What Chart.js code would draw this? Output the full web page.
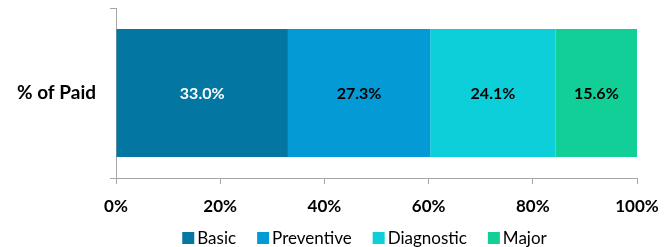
<!DOCTYPE html>
<html>
<head>
<meta charset="utf-8">
<script src="https://cdn.jsdelivr.net/npm/chart.js@4.4.0/dist/chart.umd.min.js"></script>
<style>
    html, body { margin: 0; padding: 0; background: #fff; }
    #wrap { width: 666px; height: 247px; position: relative; }
</style>
</head>
<body>
<div id="wrap"><canvas id="chart"></canvas></div>
<script>
const categories = ['% of Paid'];
const seriesNames = ['Basic', 'Preventive', 'Diagnostic', 'Major'];
const basic = [33.0];
const preventive = [27.3];
const diagnostic = [24.1];
const major = [15.6];
const xTicks = [0, 20, 40, 60, 80, 100];

const colors = ['#0377a1', '#039ad6', '#0ccfd9', '#12cf97'];
const labelColors = ['#ffffff', '#000000', '#000000', '#000000'];
const FONT = 'Lato, "Open Sans", sans-serif';

// writes the value in the middle of each bar piece
const barLabels = {
    id: 'barLabels',
    afterDatasetsDraw(chart) {
        const ctx = chart.ctx;
        ctx.save();
        ctx.font = 'bold 16px ' + FONT;
        ctx.textAlign = 'center';
        ctx.textBaseline = 'middle';
        chart.data.datasets.forEach((ds, i) => {
            chart.getDatasetMeta(i).data.forEach((bar, j) => {
                const p = bar.getProps(['x', 'y', 'base'], true);
                ctx.fillStyle = labelColors[i];
                ctx.fillText(ds.data[j].toFixed(1) + '%', (p.x + p.base) / 2, p.y + 1);
            });
        });
        ctx.restore();
    }
};

// excel style legend: small gap box->text, centred under the plot
const legendRow = {
    id: 'legendRow',
    afterDraw(chart) {
        const ctx = chart.ctx;
        const box = 12, gap = 3, spacing = 21;
        ctx.save();
        ctx.font = '17px ' + FONT;
        ctx.textBaseline = 'middle';
        const widths = chart.data.datasets.map(ds => ctx.measureText(ds.label).width);
        const total = widths.reduce((a, w) => a + box + gap + w, 0) + spacing * (widths.length - 1);
        const area = chart.chartArea;
        let x = (area.left + area.right) / 2 - 12 - total / 2;
        const y = 238;
        chart.data.datasets.forEach((ds, i) => {
            ctx.fillStyle = ds.backgroundColor;
            ctx.fillRect(x, y - box / 2, box, box);
            ctx.fillStyle = '#000';
            ctx.fillText(ds.label, x + box + gap, y + 1);
            x += box + gap + widths[i] + spacing;
        });
        ctx.restore();
    }
};

const datasets = [basic, preventive, diagnostic, major].map((vals, i) => ({
    label: seriesNames[i],
    data: vals,
    backgroundColor: colors[i],
    barPercentage: 0.753,
    categoryPercentage: 1
}));

new Chart(document.getElementById('chart'), {
    type: 'bar',
    data: { labels: categories, datasets: datasets },
    plugins: [barLabels, legendRow],
    options: {
        indexAxis: 'y',
        responsive: true,
        maintainAspectRatio: false,
        animation: false,
        layout: { padding: { top: 8, right: 29, left: 0, bottom: 29 } },
        scales: {
            x: {
                stacked: true,
                min: 0,
                max: 100,
                afterBuildTicks: (axis) => { axis.ticks = xTicks.map(v => ({ value: v })); },
                afterFit: (axis) => {
                    axis.height = 40;
                    axis.paddingLeft = 0;
                    axis.paddingRight = 0;
                },
                border: { color: '#a6a6a6', width: 1 },
                grid: { drawOnChartArea: false, drawTicks: true, tickLength: 6, color: '#a6a6a6' },
                ticks: {
                    callback: (v) => v + '%',
                    color: '#000',
                    padding: 12,
                    maxRotation: 0,
                    font: { family: FONT, size: 17, weight: 'bold' }
                }
            },
            y: {
                stacked: true,
                afterFit: (axis) => {
                    axis.width = 116;
                    axis.paddingTop = 0;
                    axis.paddingBottom = 0;
                },
                border: { color: '#a6a6a6', width: 1 },
                grid: { drawOnChartArea: false, drawTicks: true, tickLength: 6, color: '#a6a6a6', offset: true },
                ticks: {
                    color: '#000',
                    padding: 14,
                    font: { family: FONT, size: 19, weight: 'bold' }
                }
            }
        },
        plugins: {
            legend: { display: false },
            tooltip: { enabled: false }
        }
    }
});
</script>
</body>
</html>
